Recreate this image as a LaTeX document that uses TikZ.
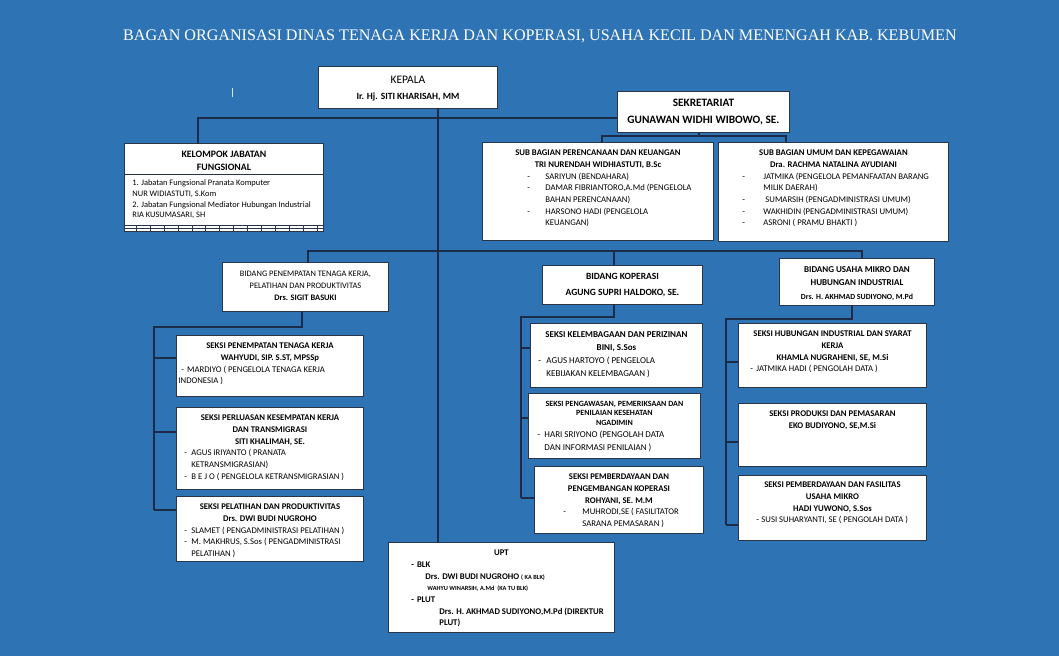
\documentclass[tikz,border=0pt]{standalone}
\usepackage{fontspec}
\setmainfont{Carlito}
\newfontfamily\titlefont{Liberation Serif}
\usetikzlibrary{positioning}

\definecolor{bgblue}{HTML}{2E74B5}
\definecolor{linkcol}{HTML}{1B2B48}
\definecolor{boxedge}{HTML}{2A3548}

% box contents: width, height, top pad, text
\newcommand\boxtext[4]{\parbox[c][#2][t]{#1}{\rightskip=0pt plus 1fil\relax\vspace*{#3}#4}}
\newcommand\hd[1]{{\centering\bfseries\strut #1\par}}
\newcommand\hdn[1]{{\centering\strut #1\par}}
% item: left skip, dash width, text
\newcommand\itm[3]{\par\leftskip=#1\relax\hangindent=#2\relax\hangafter=1\noindent\makebox[#2][l]{-}#3\par}

\begin{document}
\begin{tikzpicture}[
    x=1pt, y=-1pt,
    orgbox/.style={
        draw=boxedge,
        fill=white,
        line width=0.9pt,
        inner sep=0pt,
        anchor=north west,
        font=\fontsize{8.7}{11.7}\selectfont
    },
    link/.style={
        draw=linkcol,
        line width=1.3pt
    }
]

% Background
\fill[bgblue] (0,0) rectangle (1059,656);
\useasboundingbox (0,0) rectangle (1059,656);

% Title
\node[text=white, font=\titlefont\fontsize{16.1}{18}\selectfont] (title) at (540,36)
    {BAGAN ORGANISASI DINAS TENAGA KERJA DAN KOPERASI, USAHA KECIL DAN MENENGAH KAB. KEBUMEN};
\draw[white!80!bgblue, line width=0.6pt] (232,88) -- (232,97);

% ========== TOP LEVEL ==========

\node[orgbox] (kepala) at (318,66) {\boxtext{179pt}{42pt}{5.5pt}{%
    {\centering\fontsize{11.5}{16}\selectfont\strut KEPALA\\
     \fontsize{9.5}{16}\selectfont\bfseries Ir. Hj. SITI KHARISAH, MM\par}}};

\node[orgbox, font=\fontsize{11.3}{17}\selectfont] (sekr) at (617,91) {\boxtext{172pt}{41pt}{3.5pt}{%
    \hd{SEKRETARIAT\\ GUNAWAN WIDHI WIBOWO, SE.}}};

\node[orgbox] (kelompok) at (124,143) {\boxtext{199pt}{88pt}{5pt}{%
    {\fontsize{9.8}{13}\selectfont\hd{KELOMPOK JABATAN\\ FUNGSIONAL}}
    {\fontsize{8.4}{10.7}\selectfont\leftskip=8pt
     \vspace{4.5pt}
     1. Jabatan Fungsional Pranata Komputer\par
     NUR WIDIASTUTI, S.Kom\par
     2. Jabatan Fungsional Mediator Hubungan Industrial\par
     RIA KUSUMASARI, SH\par}}};
\draw[boxedge, line width=0.9pt] ([yshift=-31pt]kelompok.north west) -- ([yshift=-31pt]kelompok.north east);
\draw[boxedge, line width=0.7pt] ([yshift=7pt]kelompok.south west) -- ([yshift=7pt]kelompok.south east);
\draw[boxedge, line width=0.7pt] ([yshift=3.5pt]kelompok.south west) -- ([yshift=3.5pt]kelompok.south east);
\foreach \i in {0,...,13}
    \draw[boxedge, line width=0.7pt] ([xshift=12.3pt+\i*13.9pt]kelompok.south west) -- ++(0pt,7pt);

% ========== SUB BAGIAN ==========

\node[orgbox] (subren) at (482,142) {\boxtext{231pt}{98pt}{5pt}{%
    \hd{SUB BAGIAN PERENCANAAN DAN KEUANGAN\\ TRI NURENDAH WIDHIASTUTI, B.Sc}
    \itm{45pt}{18pt}{SARIYUN (BENDAHARA)}
    \itm{45pt}{18pt}{DAMAR FIBRIANTORO,A.Md (PENGELOLA\\ BAHAN PERENCANAAN)}
    \itm{45pt}{18pt}{HARSONO HADI (PENGELOLA\\ KEUANGAN)}}};

\node[orgbox] (subumum) at (718,142) {\boxtext{230pt}{99pt}{5pt}{%
    \hd{SUB BAGIAN UMUM DAN KEPEGAWAIAN\\ Dra. RACHMA NATALINA AYUDIANI}
    \itm{24pt}{21pt}{JATMIKA (PENGELOLA PEMANFAATAN BARANG\\ MILIK DAERAH)}
    \itm{24pt}{23pt}{SUMARSIH (PENGADMINISTRASI UMUM)}
    \itm{24pt}{21pt}{WAKHIDIN (PENGADMINISTRASI UMUM)}
    \itm{24pt}{21pt}{ASRONI ( PRAMU BHAKTI )}}};

% ========== BIDANG ==========

\node[orgbox, font=\fontsize{8.4}{12}\selectfont] (bidpen) at (222,262) {\boxtext{166pt}{49pt}{5.5pt}{%
    \hdn{BIDANG PENEMPATAN TENAGA KERJA,\\ PELATIHAN DAN PRODUKTIVITAS}
    \hd{Drs. SIGIT BASUKI}}};

\node[orgbox, font=\fontsize{9.5}{16}\selectfont] (bidkop) at (542,265) {\boxtext{160pt}{39pt}{3pt}{%
    \hd{BIDANG KOPERASI\\ AGUNG SUPRI HALDOKO, SE.}}};

\node[orgbox, font=\fontsize{9}{13.5}\selectfont] (bidusaha) at (779,258) {\boxtext{155pt}{47pt}{4.5pt}{%
    \hd{BIDANG USAHA MIKRO DAN\\ HUBUNGAN INDUSTRIAL}
    {\fontsize{7.8}{13.5}\selectfont\hd{Drs. H. AKHMAD SUDIYONO, M.Pd}}}};

% ========== SEKSI - PENEMPATAN ==========

\node[orgbox] (sekpen) at (176,335) {\boxtext{187pt}{61pt}{5pt}{%
    \hd{SEKSI PENEMPATAN TENAGA KERJA\\ WAHYUDI, SIP. S.ST, MPSSp}
    \par\leftskip=2pt\relax\hspace*{3pt}-\hspace{3pt}MARDIYO ( PENGELOLA TENAGA KERJA\\ INDONESIA )\par}};

\node[orgbox] (sekperl) at (176,407) {\boxtext{187pt}{82pt}{5pt}{%
    \hd{SEKSI PERLUASAN KESEMPATAN KERJA\\ DAN TRANSMIGRASI\\ SITI KHALIMAH, SE.}
    \itm{8pt}{7pt}{AGUS IRIYANTO ( PRANATA\\ KETRANSMIGRASIAN)}
    \itm{8pt}{7pt}{B E J O ( PENGELOLA KETRANSMIGRASIAN )}}};

\node[orgbox] (sekpel) at (176,496) {\boxtext{187pt}{65pt}{5pt}{%
    \hd{SEKSI PELATIHAN DAN PRODUKTIVITAS\\ Drs. DWI BUDI NUGROHO}
    \itm{8pt}{7pt}{SLAMET ( PENGADMINISTRASI PELATIHAN )}
    \itm{8pt}{7pt}{M. MAKHRUS, S.Sos ( PENGADMINISTRASI\\ PELATIHAN )}}};

% ========== SEKSI - KOPERASI ==========

\node[orgbox, font=\fontsize{9}{13}\selectfont] (sekkel) at (530,323) {\boxtext{172pt}{64pt}{4.8pt}{%
    \hd{SEKSI KELEMBAGAAN DAN PERIZINAN\\ BINI, S.Sos}
    \itm{8pt}{8pt}{AGUS HARTOYO ( PENGELOLA\\ KEBIJAKAN KELEMBAGAAN )}}};

\node[orgbox, font=\fontsize{9}{12.5}\selectfont] (sekpeng) at (528,393) {\boxtext{172pt}{65pt}{0pt}{%
    {\fontsize{8}{9.6}\selectfont\vspace*{5.9pt}\hd{SEKSI PENGAWASAN, PEMERIKSAAN DAN\\ PENILAIAN KESEHATAN\\ NGADIMIN}}
    \itm{9pt}{7pt}{HARI SRIYONO (PENGOLAH DATA\\ DAN INFORMASI PENILAIAN )}}};

\node[orgbox] (sekpkop) at (534,466) {\boxtext{169pt}{67pt}{5pt}{%
    \hd{SEKSI PEMBERDAYAAN DAN\\ PENGEMBANGAN KOPERASI\\ ROHYANI, SE. M.M}
    \itm{29pt}{19pt}{MUHRODI,SE ( FASILITATOR\\ SARANA PEMASARAN )}}};

% ========== SEKSI - USAHA MIKRO ==========

\node[orgbox] (hubind) at (738,323) {\boxtext{188pt}{64pt}{5pt}{%
    \hd{SEKSI HUBUNGAN INDUSTRIAL DAN SYARAT\\ KERJA\\ KHAMLA NUGRAHENI, SE, M.Si}
    \itm{12pt}{6pt}{JATMIKA HADI ( PENGOLAH DATA )}}};

\node[orgbox] (produksi) at (738,403) {\boxtext{188pt}{63pt}{5pt}{%
    \hd{SEKSI PRODUKSI DAN PEMASARAN\\ EKO BUDIYONO, SE,M.Si}}};

\node[orgbox] (pemusaha) at (738,475) {\boxtext{188pt}{65pt}{4pt}{%
    \hd{SEKSI PEMBERDAYAAN DAN FASILITAS\\ USAHA MIKRO\\ HADI YUWONO, S.Sos}
    \itm{18pt}{5pt}{SUSI SUHARYANTI, SE ( PENGOLAH DATA )}}};

% ========== UPT ==========

\node[orgbox] (upt) at (388,542) {\boxtext{226pt}{90pt}{5pt}{\bfseries
    \hd{UPT}
    \hspace*{23pt}-\hspace{3pt}BLK\par
    \hspace*{37pt}Drs. DWI BUDI NUGROHO {\fontsize{6.3}{11.7}\selectfont( KA BLK)}\par
    \hspace*{39pt}{\fontsize{6.3}{10}\selectfont WAHYU WINARSIH, A.Md\ \ (KA TU BLK)}\par
    \hspace*{23pt}-\hspace{3pt}PLUT\par
    \hspace*{51pt}Drs. H. AKHMAD SUDIYONO,M.Pd (DIREKTUR\par
    \hspace*{51pt}PLUT)\par}};

% ========== CONNECTIONS - TOP ==========

\coordinate (kline) at (438,118);
\coordinate (topbus) at (198,118);
\draw[link] (kepala.south -| kline) -- (upt.north -| kline);
\draw[link] (kelompok.north -| topbus) -- (topbus) -- (topbus -| sekr.west);

\coordinate (sekdrop) at (699,136);
\coordinate (sekbus1) at (602,136);
\coordinate (sekbus2) at (786,136);
\draw[link] (sekr.south -| sekdrop) -- (sekdrop);
\draw[link] (subren.north -| sekbus1) -- (sekbus1) -- (sekbus2) -- (subumum.north -| sekbus2);

% ========== CONNECTIONS - BIDANG ==========

\coordinate (bidbus1) at (308,251);
\coordinate (bidbus2) at (614,251);
\coordinate (bidbus3) at (862,251);
\draw[link] (bidpen.north -| bidbus1) -- (bidbus1) -- (bidbus3) -- (bidusaha.north -| bidbus3);
\draw[link] (bidbus2) -- (bidkop.north -| bidbus2);

% ========== CONNECTIONS - PENEMPATAN ==========

\coordinate (pdrop) at (302,327);
\coordinate (pcol) at (154,327);
\coordinate (pst1) at (154,358);
\coordinate (pst2) at (154,432);
\coordinate (pst3) at (154,510);
\draw[link] (bidpen.south -| pdrop) -- (pdrop) -- (pcol) -- (pst3);
\draw[link] (pst1) -- (pst1 -| sekpen.west);
\draw[link] (pst2) -- (pst2 -| sekperl.west);
\draw[link] (pst3) -- (pst3 -| sekpel.west);

% ========== CONNECTIONS - KOPERASI ==========

\coordinate (kdrop) at (614,317);
\coordinate (kcol) at (521,317);
\coordinate (kst1) at (521,348);
\coordinate (kst2) at (521,418);
\coordinate (kst3) at (521,498);
\draw[link] (bidkop.south -| kdrop) -- (kdrop) -- (kcol) -- (kst3);
\draw[link] (kst1) -- (kst1 -| sekkel.west);
\draw[link] (kst2) -- (kst2 -| sekpeng.west);
\draw[link] (kst3) -- (kst3 -| sekpkop.west);

% ========== CONNECTIONS - USAHA MIKRO ==========

\coordinate (udrop) at (852,319);
\coordinate (ucol) at (726,319);
\coordinate (ust1) at (726,362);
\coordinate (ust2) at (726,442);
\coordinate (ust3) at (726,525);
\draw[link] (bidusaha.south -| udrop) -- (udrop) -- (ucol) -- (ust3);
\draw[link] (ust1) -- (ust1 -| hubind.west);
\draw[link] (ust2) -- (ust2 -| produksi.west);
\draw[link] (ust3) -- (ust3 -| pemusaha.west);

\end{tikzpicture}
\end{document}
